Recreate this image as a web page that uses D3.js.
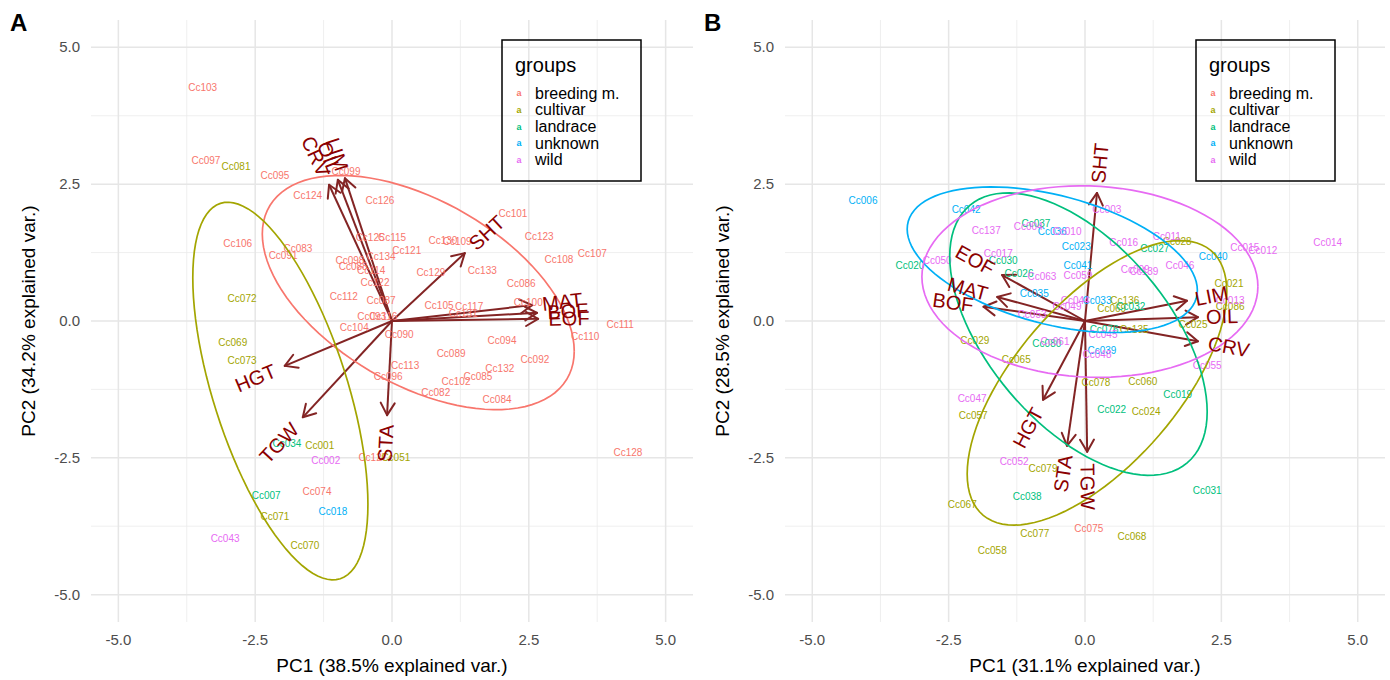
<!DOCTYPE html>
<html>
<head>
<meta charset="UTF-8">
<title>PCA biplots A and B</title>
<script src="https://cdnjs.cloudflare.com/ajax/libs/d3/7.8.5/d3.min.js"></script>
<style>
  body { margin: 0; padding: 0; background: #fff; }
  svg { font-family: "Liberation Sans", Arial, sans-serif; }
</style>
</head>
<body>
<div id="chart"></div>
<script>
// groups and ggplot hue palette
const groups = ["breeding m.", "cultivar", "landrace", "unknown", "wild"];
const groupColors = ["#F8766D", "#A3A500", "#00BF7D", "#00B0F6", "#E76BF3"];

const tickValues = [-5, -2.5, 0, 2.5, 5];
const tickLabels = ["-5.0", "-2.5", "0.0", "2.5", "5.0"];
const minorValues = [-3.75, -1.25, 1.25, 3.75];

// sample labels: [name, PC1, PC2, group index]
const samplesA = [
  ["Cc103", -3.46, 4.26, 0], ["Cc097", -3.40, 2.93, 0], ["Cc095", -2.14, 2.65, 0],
  ["Cc099", -0.84, 2.74, 0], ["Cc124", -1.54, 2.30, 0], ["Cc126", -0.22, 2.21, 0],
  ["Cc106", -2.82, 1.41, 0], ["Cc083", -1.72, 1.33, 0], ["Cc091", -1.99, 1.19, 0],
  ["Cc101", 2.21, 1.96, 0], ["Cc123", 2.69, 1.54, 0], ["Cc107", 3.66, 1.24, 0],
  ["Cc108", 3.05, 1.12, 0], ["Cc130", 0.93, 1.48, 0], ["Cc109", 1.19, 1.46, 0],
  ["Cc133", 1.65, 0.93, 0], ["Cc086", 2.36, 0.69, 0], ["Cc100", 2.49, 0.33, 0],
  ["Cc105", 0.86, 0.29, 0], ["Cc117", 1.41, 0.27, 0], ["Cc131", 1.30, 0.13, 0],
  ["Cc111", 4.17, -0.07, 0], ["Cc110", 3.53, -0.29, 0], ["Cc094", 2.01, -0.35, 0],
  ["Cc089", 1.08, -0.60, 0], ["Cc092", 2.61, -0.71, 0], ["Cc132", 1.97, -0.86, 0],
  ["Cc085", 1.57, -1.01, 0], ["Cc102", 1.17, -1.10, 0], ["Cc082", 0.80, -1.30, 0],
  ["Cc084", 1.92, -1.44, 0], ["Cc128", 4.31, -2.41, 0], ["Cc129", 0.71, 0.88, 0],
  ["Cc125", -0.40, 1.52, 0], ["Cc115", 0.00, 1.52, 0], ["Cc121", 0.27, 1.28, 0],
  ["Cc134", -0.20, 1.17, 0], ["Cc098", -0.77, 1.10, 0], ["Cc088", -0.71, 0.99, 0],
  ["Cc114", -0.38, 0.93, 0], ["Cc122", -0.31, 0.71, 0], ["Cc112", -0.88, 0.44, 0],
  ["Cc087", -0.20, 0.38, 0], ["Cc093", -0.37, 0.09, 0], ["Cc116", -0.16, 0.09, 0],
  ["Cc104", -0.69, -0.11, 0], ["Cc090", 0.13, -0.24, 0], ["Cc113", 0.24, -0.82, 0],
  ["Cc096", -0.07, -1.01, 0], ["Cc074", -1.37, -3.11, 0], ["Cc127", -0.35, -2.50, 0],
  ["Cc081", -2.85, 2.83, 1], ["Cc072", -2.74, 0.42, 1], ["Cc069", -2.91, -0.40, 1],
  ["Cc073", -2.74, -0.73, 1], ["Cc001", -1.32, -2.27, 1], ["Cc051", 0.07, -2.50, 1],
  ["Cc071", -2.14, -3.58, 1], ["Cc070", -1.59, -4.11, 1],
  ["Cc034", -1.92, -2.23, 2], ["Cc007", -2.30, -3.18, 2],
  ["Cc018", -1.08, -3.49, 3],
  ["Cc002", -1.21, -2.54, 4], ["Cc043", -3.05, -3.97, 4]
];

const samplesB = [
  ["Cc075", 0.07, -3.80, 0],
  ["Cc028", 1.69, 1.46, 1], ["Cc021", 2.64, 0.69, 1], ["Cc086", 2.66, 0.27, 1],
  ["Cc136", 0.73, 0.37, 1], ["Cc069", 0.49, 0.22, 1], ["Cc025", 1.98, -0.07, 1],
  ["Cc135", 0.90, -0.15, 1], ["Cc029", -2.02, -0.35, 1], ["Cc065", -1.26, -0.71, 1],
  ["Cc078", 0.20, -1.12, 1], ["Cc060", 1.06, -1.10, 1], ["Cc024", 1.12, -1.65, 1],
  ["Cc057", -2.05, -1.72, 1], ["Cc079", -0.77, -2.69, 1], ["Cc067", -2.25, -3.36, 1],
  ["Cc077", -0.92, -3.89, 1], ["Cc068", 0.86, -3.93, 1], ["Cc058", -1.70, -4.20, 1],
  ["Cc037", -0.90, 1.79, 2], ["Cc030", -1.50, 1.10, 2], ["Cc026", -1.21, 0.86, 2],
  ["Cc020", -3.21, 1.02, 2], ["Cc027", 1.28, 1.32, 2], ["Cc032", 0.84, 0.27, 2],
  ["Cc076", 0.35, -0.15, 2], ["Cc080", -0.70, -0.42, 2], ["Cc022", 0.49, -1.61, 2],
  ["Cc019", 1.70, -1.35, 2], ["Cc038", -1.06, -3.20, 2], ["Cc031", 2.24, -3.09, 2],
  ["Cc006", -4.07, 2.21, 3], ["Cc042", -2.18, 2.03, 3], ["Cc036", -0.60, 1.63, 3],
  ["Cc023", -0.16, 1.37, 3], ["Cc041", -0.13, 1.02, 3], ["Cc040", 2.35, 1.17, 3],
  ["Cc035", -0.93, 0.51, 3], ["Cc033", 0.22, 0.38, 3], ["Cc039", 0.31, -0.53, 3],
  ["Cc137", -1.81, 1.65, 4], ["Cc017", -1.59, 1.24, 4], ["Cc050", -2.71, 1.10, 4],
  ["Cc063", -0.79, 0.82, 4], ["Cc003", 0.40, 2.03, 4], ["Cc016", 0.71, 1.44, 4],
  ["Cc011", 1.50, 1.55, 4], ["Cc015", 2.93, 1.35, 4], ["Cc012", 3.26, 1.28, 4],
  ["Cc014", 4.45, 1.44, 4], ["Cc046", 1.74, 1.01, 4], ["Cc009", 0.92, 0.95, 4],
  ["Cc139", 1.08, 0.91, 4], ["Cc059", -0.13, 0.84, 4], ["Cc013", 2.66, 0.37, 4],
  ["Cc055", 2.24, -0.82, 4], ["Cc049", -0.33, 0.27, 4], ["Cc044", -0.18, 0.37, 4],
  ["Cc045", 0.33, -0.24, 4], ["Cc048", 0.22, -0.62, 4], ["Cc061", -0.55, -0.37, 4],
  ["Cc053", -0.97, 0.11, 4], ["Cc047", -2.07, -1.41, 4], ["Cc052", -1.30, -2.56, 4],
  ["Cc010", -0.33, 1.63, 4], ["Cc004", -1.04, 1.72, 4]
];

// variable loadings (arrow tips): [name, PC1, PC2]
const loadingsA = [
  ["LIM", -0.86, 2.61], ["OIL", -0.99, 2.58], ["CRV", -1.15, 2.49],
  ["SHT", 1.33, 1.24], ["MAT", 2.56, 0.29], ["BOF", 2.65, 0.15], ["EOF", 2.67, 0.04],
  ["HGT", -1.96, -0.82], ["TGW", -1.63, -1.76], ["STA", -0.09, -1.72]
];
const loadingsB = [
  ["SHT", 0.22, 2.34], ["LIM", 1.87, 0.37], ["OIL", 2.07, 0.07], ["CRV", 2.07, -0.37],
  ["EOF", -1.52, 0.84], ["MAT", -1.61, 0.44], ["BOF", -1.86, 0.26],
  ["HGT", -0.77, -1.44], ["STA", -0.33, -2.28], ["TGW", 0.04, -2.39]
];

// group ellipses: [group index, centre x, centre y, sd x, sd y, correlation]
const ellipsesA = [
  [0, 0.48, 0.52, 2.85, 2.14, -0.50],
  [1, -2.04, -1.28, 1.60, 3.45, -0.60]
];
const ellipsesB = [
  [1, 0.22, -1.13, 2.38, 2.60, 0.64],
  [2, -0.12, -0.24, 2.36, 2.58, -0.55],
  [3, -0.60, 1.12, 2.66, 1.33, -0.42],
  [4, 0.09, 0.72, 3.08, 1.75, -0.05]
];

const xTitles = ["PC1 (38.5% explained var.)", "PC1 (31.1% explained var.)"];
const yTitles = ["PC2 (34.2% explained var.)", "PC2 (28.5% explained var.)"];
const tags = ["A", "B"];

const W = 1390, H = 680;
const svg = d3.select("#chart").append("svg")
  .attr("width", W).attr("height", H);

function drawPanel(p, samples, loadings, ellipses, left, right, legendX) {
  const x = d3.scaleLinear().domain([-5.5, 5.5]).range([left, right]);
  const y = d3.scaleLinear().domain([-5.5, 5.5]).range([622, 20]);
  const g = svg.append("g");

  // grid
  g.selectAll(".minx").data(minorValues).enter().append("line")
    .attr("x1", d => x(d)).attr("x2", d => x(d)).attr("y1", 20).attr("y2", 622)
    .attr("stroke", "#ebebeb").attr("stroke-width", 0.8);
  g.selectAll(".miny").data(minorValues).enter().append("line")
    .attr("y1", d => y(d)).attr("y2", d => y(d)).attr("x1", left).attr("x2", right)
    .attr("stroke", "#ebebeb").attr("stroke-width", 0.8);
  g.selectAll(".majx").data(tickValues).enter().append("line")
    .attr("x1", d => x(d)).attr("x2", d => x(d)).attr("y1", 20).attr("y2", 622)
    .attr("stroke", "#e6e6e6").attr("stroke-width", 1.5);
  g.selectAll(".majy").data(tickValues).enter().append("line")
    .attr("y1", d => y(d)).attr("y2", d => y(d)).attr("x1", left).attr("x2", right)
    .attr("stroke", "#e6e6e6").attr("stroke-width", 1.5);

  // tick labels
  g.selectAll(".tx").data(tickValues).enter().append("text")
    .attr("x", d => x(d)).attr("y", 645).attr("text-anchor", "middle")
    .attr("font-size", 15).attr("fill", "#4d4d4d")
    .text((d, i) => tickLabels[i]);
  g.selectAll(".ty").data(tickValues).enter().append("text")
    .attr("x", left - 11).attr("y", d => y(d) + 5).attr("text-anchor", "end")
    .attr("font-size", 15).attr("fill", "#4d4d4d")
    .text((d, i) => tickLabels[i]);

  // axis titles
  g.append("text").attr("x", x(0)).attr("y", 672).attr("text-anchor", "middle")
    .attr("font-size", 19).attr("fill", "#000").text(xTitles[p]);
  g.append("text").attr("transform", `translate(${left - 56},${y(0)}) rotate(-90)`)
    .attr("text-anchor", "middle").attr("font-size", 19).attr("fill", "#000")
    .text(yTitles[p]);

  // panel tag
  g.append("text").attr("x", left - 81).attr("y", 31).attr("font-size", 24)
    .attr("font-weight", "bold").text(tags[p]);

  // arrows (drawn under labels, like ggbiplot)
  const arrowCol = "#832424";
  const ag = g.append("g");
  loadings.forEach(d => {
    const x0 = x(0), y0 = y(0), x1 = x(d[1]), y1 = y(d[2]);
    ag.append("line").attr("x1", x0).attr("y1", y0).attr("x2", x1).attr("y2", y1)
      .attr("stroke", arrowCol).attr("stroke-width", 2);
    const a = Math.atan2(y1 - y0, x1 - x0);
    [-Math.PI / 6, Math.PI / 6].forEach(da => {
      ag.append("line").attr("x1", x1).attr("y1", y1)
        .attr("x2", x1 - 14 * Math.cos(a + da)).attr("y2", y1 - 14 * Math.sin(a + da))
        .attr("stroke", arrowCol).attr("stroke-width", 2).attr("stroke-linecap", "round");
    });
  });

  // sample labels
  g.append("g").selectAll("text").data(samples).enter().append("text")
    .attr("x", d => x(d[1])).attr("y", d => y(d[2])).attr("dy", "0.35em")
    .attr("text-anchor", "middle").attr("font-size", 10)
    .attr("fill", d => groupColors[d[3]]).text(d => d[0]);

  // ellipses
  const line = d3.line().x(d => x(d[0])).y(d => y(d[1]));
  ellipses.forEach(e => {
    const pts = d3.range(0, 101).map(i => {
      const t = 2 * Math.PI * i / 100;
      return [e[1] + e[3] * Math.cos(t),
              e[2] + e[4] * (e[5] * Math.cos(t) + Math.sqrt(1 - e[5] * e[5]) * Math.sin(t))];
    });
    g.append("path").attr("d", line(pts)).attr("fill", "none")
      .attr("stroke", groupColors[e[0]]).attr("stroke-width", 1.7);
  });

  // variable names
  loadings.forEach(d => {
    const ang = Math.atan(d[2] / d[1]) * 180 / Math.PI;
    const t = g.append("text")
      .attr("transform", `translate(${x(d[1])},${y(d[2])}) rotate(${-ang})`)
      .attr("dy", "0.35em").attr("font-size", 20).attr("fill", "#8B0000")
      .attr("text-anchor", d[1] > 0 ? "start" : "end").text(d[0]);
    const w = t.node().getComputedTextLength();
    t.attr("dx", d[1] > 0 ? 0.25 * w : -0.25 * w);
  });

  // legend
  const lg = g.append("g").attr("transform", `translate(${legendX},40)`);
  lg.append("rect").attr("width", 139).attr("height", 141)
    .attr("fill", "none").attr("stroke", "#000").attr("stroke-width", 1.5);
  lg.append("text").attr("x", 13).attr("y", 32).attr("font-size", 20).text("groups");
  groups.forEach((gr, i) => {
    const yy = 53 + i * 16.7;
    lg.append("text").attr("x", 17).attr("y", yy).attr("dy", "0.35em")
      .attr("text-anchor", "middle").attr("font-size", 9).attr("font-weight", "bold")
      .attr("fill", groupColors[i]).text("a");
    lg.append("text").attr("x", 33).attr("y", yy).attr("dy", "0.35em")
      .attr("font-size", 16).text(gr);
  });
}

drawPanel(0, samplesA, loadingsA, ellipsesA, 91, 693, 502);
drawPanel(1, samplesB, loadingsB, ellipsesB, 785, 1385, 1196);
</script>
</body>
</html>
